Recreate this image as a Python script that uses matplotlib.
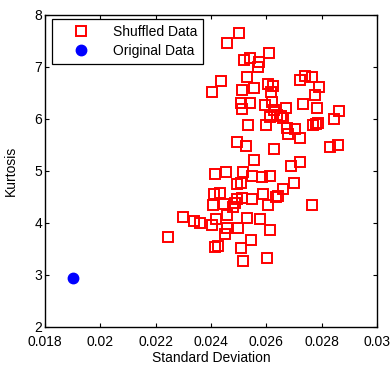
import matplotlib
matplotlib.use('Agg')
import matplotlib.pyplot as plt
from matplotlib.ticker import FormatStrFormatter

plt.rcParams['font.family'] = ['Liberation Sans', 'DejaVu Sans']

# Shuffled data (std, kurtosis)
shuffled_std = [
    0.02502, 0.02458, 0.02610, 0.02541, 0.02520, 0.02574, 0.02570, 0.02531, 0.02437, 0.02404,
    0.02512, 0.02556, 0.02607, 0.02625, 0.02617, 0.02722, 0.02740, 0.02766, 0.02791, 0.02777,
    0.02509, 0.02541, 0.02512, 0.02596, 0.02621, 0.02628, 0.02672, 0.02733, 0.02784, 0.02863,
    0.02845, 0.02534, 0.02599, 0.02614, 0.02639, 0.02654, 0.02661, 0.02675, 0.02704, 0.02679,
    0.02722, 0.02769, 0.02780, 0.02787, 0.02494, 0.02527, 0.02628, 0.02831, 0.02860, 0.02556,
    0.02690, 0.02722, 0.02415, 0.02455, 0.02516, 0.02549, 0.02585, 0.02614, 0.02494, 0.02509,
    0.02701, 0.02661, 0.02643, 0.02635, 0.02588, 0.02549, 0.02512, 0.02494, 0.02487, 0.02411,
    0.02433, 0.02408, 0.02447, 0.02480, 0.02607, 0.02766, 0.02458, 0.02531, 0.02578, 0.02418,
    0.02404, 0.02361, 0.02339, 0.02299, 0.02458, 0.02498, 0.02451, 0.02614, 0.02545, 0.02415,
    0.02426, 0.02509, 0.02516, 0.02603, 0.02245,
]
shuffled_kurt = [
    7.65, 7.46, 7.27, 7.17, 7.13, 7.10, 7.00, 6.81, 6.73, 6.52,
    6.56, 6.60, 6.67, 6.63, 6.52, 6.75, 6.83, 6.81, 6.62, 6.46,
    6.31, 6.31, 6.19, 6.27, 6.33, 6.17, 6.21, 6.29, 6.21, 6.15,
    6.00, 5.88, 5.88, 6.04, 6.08, 6.06, 6.02, 5.83, 5.81, 5.71,
    5.63, 5.88, 5.90, 5.92, 5.56, 5.48, 5.42, 5.46, 5.50, 5.21,
    5.10, 5.17, 4.94, 4.98, 4.98, 4.90, 4.88, 4.90, 4.75, 4.77,
    4.77, 4.65, 4.52, 4.50, 4.56, 4.46, 4.48, 4.46, 4.38, 4.56,
    4.58, 4.35, 4.37, 4.31, 4.35, 4.35, 4.15, 4.10, 4.08, 4.08,
    3.96, 4.00, 4.04, 4.12, 3.90, 3.90, 3.79, 3.87, 3.67, 3.54,
    3.56, 3.52, 3.27, 3.33, 3.73,
]

# Original data
orig_std = [0.01901]
orig_kurt = [2.94]

xticks = [0.018, 0.02, 0.022, 0.024, 0.026, 0.028, 0.03]
yticks = [2, 3, 4, 5, 6, 7, 8]

fig = plt.figure(figsize=(3.9, 3.7), dpi=100)
ax = fig.add_axes([45/390, 43/370, 332/390, 312/370])

ax.plot(shuffled_std, shuffled_kurt, 's', markersize=7.2, markerfacecolor='none',
        markeredgecolor='red', markeredgewidth=1.4, linestyle='none', label='Shuffled Data')
ax.plot(orig_std, orig_kurt, 'o', markersize=7.5, color='blue', linestyle='none',
        label='Original Data')

ax.set_xlim(0.018, 0.03)
ax.set_ylim(2, 8)
ax.set_xticks(xticks)
ax.set_yticks(yticks)
ax.xaxis.set_major_formatter(FormatStrFormatter('%g'))
ax.tick_params(direction='in', length=3, width=0.8, labelsize=10, top=True, right=True)
ax.tick_params(axis='x', pad=5.5)
ax.tick_params(axis='y', pad=2)
for s in ax.spines.values():
    s.set_linewidth(1.0)

ax.set_xlabel('Standard Deviation', fontsize=10, labelpad=2)
ax.set_ylabel('Kurtosis', fontsize=10, labelpad=12)

leg = ax.legend(loc='upper left', fontsize=10, fancybox=False, framealpha=1,
                edgecolor='black', handlelength=3.4, borderpad=0.4, labelspacing=0.4,
                handletextpad=0.6, bbox_to_anchor=(0.021, 0.987), borderaxespad=0)
leg.get_frame().set_linewidth(0.9)

fig.savefig('out.png', dpi=100)
